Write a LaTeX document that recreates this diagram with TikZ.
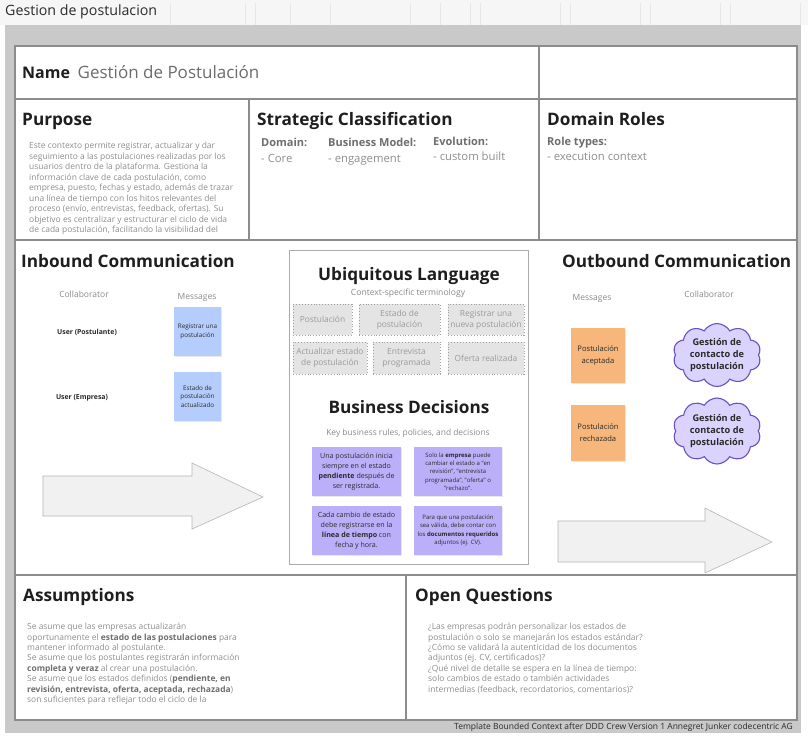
\documentclass[tikz,border=0pt]{standalone}
\usepackage{fontspec}
\setmainfont{Open Sans}
\usetikzlibrary{shapes.symbols,shadows}
\definecolor{framec}{HTML}{C9C9C9}
\definecolor{linec}{HTML}{8C8C8C}
\definecolor{topbg}{HTML}{F6F6F6}
\definecolor{gridc}{HTML}{E6E6E6}
\definecolor{hdc}{HTML}{1E1E1E}
\definecolor{bodyc}{HTML}{8E8E8E}
\definecolor{boldc}{HTML}{6E6E6E}
\definecolor{namec}{HTML}{6C6C6C}
\definecolor{labc}{HTML}{8A8A8A}
\definecolor{bluec}{HTML}{B4CDFC}
\definecolor{orangec}{HTML}{F6B67C}
\definecolor{purpc}{HTML}{BCAFFA}
\definecolor{cloudfill}{HTML}{D9D3FD}
\definecolor{cloudline}{HTML}{6B4FC7}
\definecolor{arrowfill}{HTML}{F1F1F1}
\definecolor{arrowline}{HTML}{B5B5B5}
\definecolor{dashfill}{HTML}{E4E4E4}
\definecolor{dashc}{HTML}{A0A0A0}
\definecolor{termc}{HTML}{9A9A9A}
\definecolor{darkt}{HTML}{2A2A2A}
\definecolor{ulbox}{HTML}{ABABAB}
\newcommand\myfs[2]{\fontsize{#1}{#2}\selectfont}
\begin{document}
\begin{tikzpicture}[x=1pt,y=-1pt,
  hd/.style={inner sep=0, anchor=base west, font=\myfs{17.2}{19}\bfseries, text=hdc},
  hdc/.style={inner sep=0, anchor=base, font=\myfs{17.2}{19}\bfseries, text=hdc},
  body/.style={inner sep=0, anchor=north west, align=left, font=\myfs{8.45}{10.45}, text=bodyc},
  lab/.style={inner sep=0, anchor=base, font=\myfs{8.5}{9}, text=labc},
  sclab/.style={inner sep=0, anchor=base west, font=\myfs{11}{12}\bfseries, text=boldc},
  scval/.style={inner sep=0, anchor=base west, font=\myfs{11.3}{12}, text=bodyc},
  user/.style={inner sep=0, anchor=base, font=\myfs{6.9}{7}\bfseries, text=darkt},
  sticky/.style={inner sep=1pt, align=center, font=\myfs{6.3}{8.6}, text=darkt,
    drop shadow={shadow xshift=0.6pt, shadow yshift=-1pt, opacity=0.18}},
  termbox/.style={draw=dashc, dotted, line width=0.9pt, fill=dashfill, align=center,
    font=\myfs{8.4}{11}, text=termc, inner sep=1pt},
  rulebox/.style={fill=purpc, align=center, inner sep=1pt, text=darkt,
    drop shadow={shadow xshift=0.6pt, shadow yshift=-1pt, opacity=0.18}},
  cloudy/.style={cloud, cloud puffs=10, cloud puff arc=120, aspect=1.4, cloud ignores aspect,
    draw=cloudline, fill=cloudfill, line width=1.1pt, align=center,
    font=\myfs{9.2}{12.3}\bfseries, text=darkt, inner sep=0pt},
  bigarrow/.style={fill=arrowfill, draw=arrowline, line width=0.6pt},
  divider/.style={draw=linec, line width=1.3pt}
]
\useasboundingbox (0,0) rectangle (808,737);
% top bar
\fill[topbg] (0,0) rectangle (808,25);
\foreach \gx in {170,245,255,290,330,410,440,470,480,560,570,640,650,720,730,800}
  \draw[gridc, line width=0.4pt] (\gx,3) -- (\gx,25);
\node[inner sep=0, anchor=base west, font=\myfs{14.2}{16}, text=darkt] (title) at (5,15) {Gestion de postulacion};
% frame
\fill[framec] (5,25) rectangle (801,733);
\fill[white] (15,46) rectangle (797,720);
\draw[divider] (15,46) rectangle (797,720);
\draw[divider] (15,99) -- (797,99);
\draw[divider] (539,46) -- (539,240);
\draw[divider] (249,99) -- (249,240);
\draw[divider] (15,240) -- (797,240);
\draw[divider] (15,575) -- (797,575);
\draw[divider] (406,575) -- (406,720);
\node[inner sep=0, anchor=base east, font=\myfs{8.5}{9}, text=darkt] (footer) at (793,729)
  {Template Bounded Context after DDD Crew Version 1 Annegret Junker codecentric AG};

% Name
\node[inner sep=0, anchor=base west, font=\myfs{16}{18}\bfseries, text=hdc] (nameh) at (22,78.5) {Name};
\node[inner sep=0, anchor=base west, font=\myfs{17}{18}, text=namec] (namev) at (77.5,78.5) {Gestión de Postulación};

% Purpose
\node[hd] (purph) at (22,125) {Purpose};
\node[body] (purpt) at (29,142.3) {Este contexto permite registrar, actualizar y dar\\
seguimiento a las postulaciones realizadas por los\\
usuarios dentro de la plataforma. Gestiona la\\
información clave de cada postulación, como\\
empresa, puesto, fechas y estado, además de trazar\\
una línea de tiempo con los hitos relevantes del\\
proceso (envío, entrevistas, feedback, ofertas). Su\\
objetivo es centralizar y estructurar el ciclo de vida\\
de cada postulación, facilitando la visibilidad del};

% Strategic classification
\node[hd] (strath) at (257,125) {Strategic Classification};
\node[sclab] (doml) at (261,146) {Domain:};
\node[scval] (domv) at (261,162) {- Core};
\node[sclab] (bml) at (328,146) {Business Model:};
\node[scval] (bmv) at (328,162) {- engagement};
\node[sclab] (evl) at (433,145) {Evolution:};
\node[scval] (evv) at (433,160) {- custom built};

% Domain roles
\node[hd] (domrh) at (547,125) {Domain Roles};
\node[sclab] (rolel) at (547,145) {Role types:};
\node[scval] (rolev) at (547,160) {- execution context};

% Inbound
\node[hd] (inh) at (21,267) {Inbound Communication};
\node[lab] (incol) at (84,297) {Collaborator};
\node[lab] (inmsg) at (197,299) {Messages};
\node[user] (user1) at (87,334) {User (Postulante)};
\node[user] (user2) at (82,399) {User (Empresa)};
\node[sticky, fill=bluec, minimum width=47pt, minimum height=49pt] (in1) at (197.5,331.5) {Registrar una\\postulación};
\node[sticky, fill=bluec, minimum width=47pt, minimum height=49pt] (in2) at (197.5,396.5) {Estado de\\postulación\\actualizado};
\draw[bigarrow] (43,476) -- (192,476) -- (192,463) -- (263,497) -- (192,529) -- (192,516) -- (43,516) -- cycle;

% Ubiquitous language
\draw[draw=ulbox, line width=1pt] (289,250) rectangle (528,564);
\node[hdc] (ulh) at (409,280) {Ubiquitous Language};
\node[lab, font=\myfs{8.6}{9}] (ulsub) at (408,295.5) {Context-specific terminology};
\node[termbox, minimum width=59pt, minimum height=31pt] (t1) at (322.5,319.5) {Postulación};
\node[termbox, minimum width=81pt, minimum height=31pt] (t2) at (399.5,319.5) {Estado de\\postulación};
\node[termbox, minimum width=76pt, minimum height=31pt] (t3) at (486,319.5) {Registrar una\\nueva postulación};
\node[termbox, minimum width=74pt, minimum height=32pt] (t4) at (330,358) {Actualizar estado\\de postulación};
\node[termbox, minimum width=67pt, minimum height=32pt] (t5) at (406.5,358) {Entrevista\\programada};
\node[termbox, minimum width=76pt, minimum height=32pt] (t6) at (486,358) {Oferta realizada};

% Business decisions
\node[hdc] (bdh) at (409,413) {Business Decisions};
\node[lab, font=\myfs{8.4}{9}] (bdsub) at (408,435) {Key business rules, policies, and decisions};
\node[rulebox, minimum width=89pt, minimum height=49pt, font=\myfs{7.1}{9.8}] (r1) at (356.5,471.5)
  {Una postulación inicia\\siempre en el estado\\\textbf{pendiente} después de\\ser registrada.};
\node[rulebox, minimum width=88pt, minimum height=49pt, font=\myfs{6}{8.3}] (r2) at (458,471.5)
  {Solo la \textbf{empresa} puede\\cambiar el estado a "en\\revisión", "entrevista\\programada", "oferta" o\\"rechazo".};
\node[rulebox, minimum width=89pt, minimum height=49pt, font=\myfs{7.1}{9.8}] (r3) at (356.5,530.5)
  {Cada cambio de estado\\debe registrarse en la\\\textbf{línea de tiempo} con\\fecha y hora.};
\node[rulebox, minimum width=88pt, minimum height=49pt, font=\myfs{6}{8.3}] (r4) at (458,530.5)
  {Para que una postulación\\sea válida, debe contar con\\los \textbf{documentos requeridos}\\adjuntos (ej. CV).};

% Outbound
\node[hd] (outh) at (562,267) {Outbound Communication};
\node[lab] (outmsg) at (592,300) {Messages};
\node[lab] (outcol) at (709,297) {Collaborator};
\node[sticky, fill=orangec, minimum width=54pt, minimum height=55pt, font=\myfs{7.6}{12}] (o1) at (598,355.5) {Postulación\\aceptada};
\node[sticky, fill=orangec, minimum width=54pt, minimum height=56pt, font=\myfs{7.6}{12}] (o2) at (598,433) {Postulación\\rechazada};
\node[cloudy, minimum width=88pt, minimum height=63pt] (c1) at (717,355) {Gestión de\\contacto de\\postulación};
\node[cloudy, minimum width=88pt, minimum height=66pt] (c2) at (717,431) {Gestión de\\contacto de\\postulación};
\draw[bigarrow] (558,521) -- (705,521) -- (705,508) -- (772,542) -- (705,573) -- (705,562) -- (558,562) -- cycle;

% Assumptions
\node[hd] (assh) at (23,601) {Assumptions};
\node[body] (asst) at (27,622.9) {Se asume que las empresas actualizarán\\
oportunamente el \textcolor{boldc}{\textbf{estado de las postulaciones}} para\\
mantener informado al postulante.\\
Se asume que los postulantes registrarán información\\
\textcolor{boldc}{\textbf{completa y veraz}} al crear una postulación.\\
Se asume que los estados definidos (\textcolor{boldc}{\textbf{pendiente, en}}\\
\textcolor{boldc}{\textbf{revisión, entrevista, oferta, aceptada, rechazada}})\\
son suficientes para reflejar todo el ciclo de la};

% Open questions
\node[hd] (oqh) at (415,601) {Open Questions};
\node[body] (oqt) at (428,622.9) {¿Las empresas podrán personalizar los estados de\\
postulación o solo se manejarán los estados estándar?\\
¿Cómo se validará la autenticidad de los documentos\\
adjuntos (ej. CV, certificados)?\\
¿Qué nivel de detalle se espera en la línea de tiempo:\\
solo cambios de estado o también actividades\\
intermedias (feedback, recordatorios, comentarios)?};
\end{tikzpicture}
\end{document}
